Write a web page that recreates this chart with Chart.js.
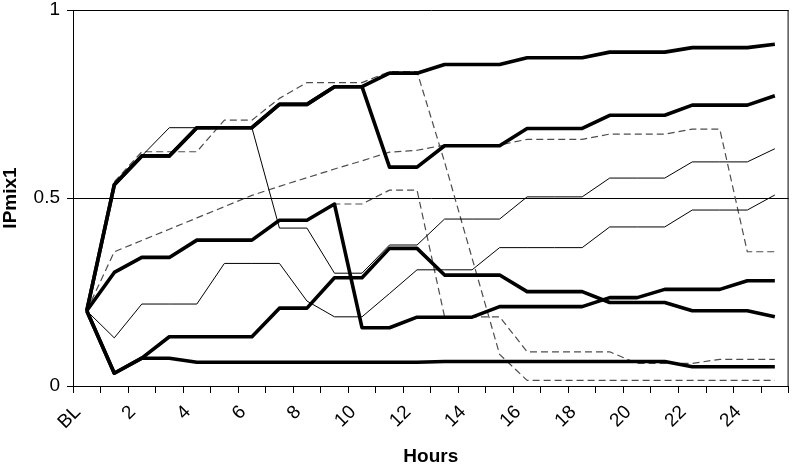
<!DOCTYPE html>
<html>
<head>
<meta charset="utf-8">
<script src="https://cdn.jsdelivr.net/npm/chart.js@4.4.1/dist/chart.umd.min.js"></script>
<style>
  html, body { margin: 0; padding: 0; background: #fff; }
</style>
</head>
<body>
<canvas id="chart" width="799" height="465"></canvas>
<script>
// x categories: baseline + hours 1..25
const hours = ['BL', '1', '2', '3', '4', '5', '6', '7', '8', '9', '10', '11', '12', '13',
  '14', '15', '16', '17', '18', '19', '20', '21', '22', '23', '24', '25'];
const yTicks = [0, 0.5, 1];

// thick lines
const thick1 = [0.2, 0.535, 0.612, 0.612, 0.687, 0.687, 0.687, 0.749, 0.749, 0.796, 0.796, 0.832, 0.832,
  0.855, 0.855, 0.855, 0.873, 0.873, 0.873, 0.888, 0.888, 0.888, 0.9, 0.9, 0.9, 0.909];
const thick2 = [0.2, 0.535, 0.612, 0.612, 0.687, 0.687, 0.687, 0.749, 0.749, 0.796, 0.796, 0.582, 0.582,
  0.639, 0.639, 0.639, 0.685, 0.685, 0.685, 0.72, 0.72, 0.72, 0.747, 0.747, 0.747, 0.772];
const thick3 = [0.2, 0.302, 0.342, 0.342, 0.388, 0.388, 0.388, 0.441, 0.441, 0.484, 0.155, 0.155, 0.183,
  0.183, 0.183, 0.211, 0.211, 0.211, 0.211, 0.235, 0.235, 0.257, 0.257, 0.257, 0.28, 0.28];
const thick4 = [0.2, 0.034, 0.074, 0.131, 0.131, 0.131, 0.131, 0.207, 0.207, 0.288, 0.288, 0.366, 0.366,
  0.295, 0.295, 0.295, 0.251, 0.251, 0.251, 0.222, 0.222, 0.222, 0.2, 0.2, 0.2, 0.184];
const thick5 = [0.2, 0.034, 0.074, 0.074, 0.063, 0.063, 0.063, 0.063, 0.063, 0.063, 0.063, 0.063, 0.063,
  0.065, 0.065, 0.065, 0.065, 0.065, 0.065, 0.065, 0.065, 0.065, 0.051, 0.051, 0.051, 0.051];

// thin solid lines
const thinA = [0.2, 0.54, 0.612, 0.687, 0.687, 0.687, 0.687, 0.42, 0.42, 0.3, 0.3, 0.375, 0.375,
  0.444, 0.444, 0.444, 0.503, 0.503, 0.503, 0.553, 0.553, 0.553, 0.596, 0.596, 0.596, 0.631];
const thinB = [0.2, 0.128, 0.218, 0.218, 0.218, 0.326, 0.326, 0.326, 0.226, 0.184, 0.184, 0.246, 0.309,
  0.309, 0.309, 0.368, 0.368, 0.368, 0.368, 0.423, 0.423, 0.423, 0.468, 0.468, 0.468, 0.508];

// dashed lines
const dash1 = [0.2, 0.543, 0.623, 0.623, 0.623, 0.707, 0.707, 0.765, 0.807, 0.807, 0.807, 0.836, 0.836,
  0.596, 0.34, 0.084, 0.015, 0.015, 0.015, 0.015, 0.015, 0.015, 0.015, 0.015, 0.015, 0.015];
const dash2 = [0.2, 0.357, 0.387, 0.417, 0.447, 0.477, 0.507, 0.531, 0.554, 0.577, 0.599, 0.622, 0.627,
  0.641, 0.641, 0.641, 0.656, 0.656, 0.656, 0.67, 0.67, 0.67, 0.683, 0.683, 0.357, 0.357];
const dash3 = [0.2, 0.302, 0.342, 0.342, 0.388, 0.388, 0.388, 0.441, 0.441, 0.484, 0.484, 0.521, 0.521,
  0.184, 0.184, 0.184, 0.091, 0.091, 0.091, 0.091, 0.06, 0.06, 0.06, 0.071, 0.071, 0.071];

const FONT = 'Liberation Sans, Arial, sans-serif';

const thick = d => ({ data: d, borderColor: '#000', borderWidth: 3.6 });
const thin = d => ({ data: d, borderColor: '#000', borderWidth: 1 });
const dashed = d => ({ data: d, borderColor: '#4d4d4d', borderWidth: 1.2, borderDash: [7, 4] });

// right edge of the plot box
const frame = {
  id: 'frame',
  afterDraw(chart) {
    const { ctx, chartArea: a } = chart;
    ctx.save();
    ctx.strokeStyle = '#000';
    ctx.lineWidth = 1;
    ctx.beginPath();
    ctx.moveTo(a.right - 0.5, a.top);
    ctx.lineTo(a.right - 0.5, a.bottom);
    ctx.stroke();
    ctx.restore();
  }
};

new Chart(document.getElementById('chart'), {
  type: 'line',
  data: {
    labels: hours,
    datasets: [
      thick(thick1), thick(thick2), thick(thick3), thick(thick4), thick(thick5),
      thin(thinA), thin(thinB),
      dashed(dash1), dashed(dash2), dashed(dash3)
    ]
  },
  options: {
    responsive: false,
    animation: false,
    layout: { padding: { top: 10, right: 2, left: 0, bottom: 0 } },
    plugins: { legend: { display: false }, tooltip: { enabled: false } },
    elements: {
      point: { radius: 0 },
      line: { tension: 0, borderJoinStyle: 'round', borderCapStyle: 'butt' }
    },
    scales: {
      x: {
        offset: true,
        grid: { offset: true, drawOnChartArea: false, color: '#000', tickLength: 7 },
        border: { color: '#000' },
        ticks: {
          autoSkip: false, minRotation: 45, maxRotation: 45, padding: 8, labelOffset: -9,
          color: '#000', font: { family: FONT, size: 19 },
          callback: (v, i) => (i % 2 === 0 && i < 25 ? hours[i] : '')
        },
        title: {
          display: true, text: 'Hours', color: '#000',
          font: { family: FONT, size: 19, weight: 'bold', lineHeight: 0.9 }, padding: { top: 0, bottom: 0 }
        },
        afterFit: s => { s.height = 79; }
      },
      y: {
        min: 0, max: 1,
        afterBuildTicks: s => { s.ticks = yTicks.map(v => ({ value: v })); },
        ticks: {
          padding: 7, color: '#000', font: { family: FONT, size: 19 },
          callback: v => String(v)
        },
        grid: { color: '#000', tickLength: 6 },
        border: { color: '#000' },
        title: {
          display: true, text: 'IPmix1', color: '#000',
          font: { family: FONT, size: 19, weight: 'bold', lineHeight: 1.1 }, padding: { top: 0, bottom: 0 }
        },
        afterFit: s => { s.width = 73; s.paddingTop = 0; s.paddingBottom = 0; }
      }
    }
  },
  plugins: [frame]
});
</script>
</body>
</html>
